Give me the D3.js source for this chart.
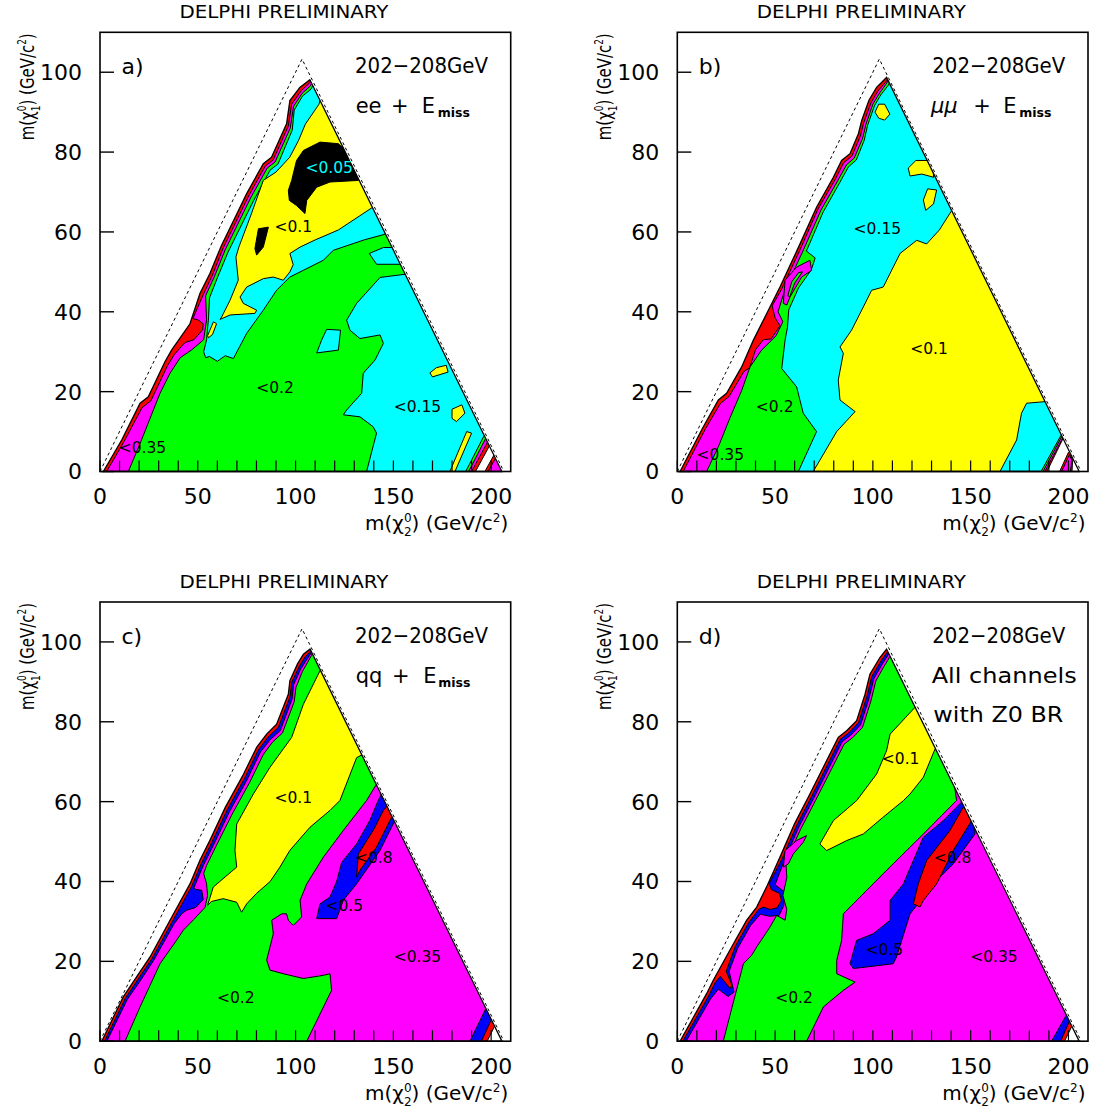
<!DOCTYPE html>
<html><head><meta charset="utf-8">
<script src="https://cdn.jsdelivr.net/npm/d3@7"></script>
<style>body{margin:0;background:#fff}</style></head>
<body>
<svg id="chart" width="1098" height="1111"></svg>
<script>
// ---------------- DATA (m(chi2), m(chi1)) in GeV ----------------
const xTickLabels = [0, 50, 100, 150, 200];
const xMinorTicks = [0,10,20,30,40,50,60,70,80,90,100,110,120,130,140,150,160,170,180,190,200];
const yTickLabels = [0, 20, 40, 60, 80, 100];
const kinematicLimit = [[0,0],[103.3,103.3],[206.5,0]];

// ---- panel a : ee + Emiss
const aEdge = [[1.7,0],[11.1,7.9],[20.5,17.1],[24.7,18.7],[33.2,27.5],[36.6,30.4],[46,37],[51.1,44.6],[56.2,49.6],[62,56.5],[75,69.6],[83.5,77.1],[87.7,78.7],[95.4,87.1],[97.1,92.9],[102.2,96.2],[107.3,98.1],[205.5,0]];
const aRed = [
 [[-10,-10],[192,-10],[192,0],[199.1,6.4],[240,40],[240,120],[-10,120]],
 [[196.8,-10],[196.8,0],[201.4,4.1],[215,10],[215,-10]]];
const aMagenta = [
 [[3.4,0],[12.3,7.5],[21.5,16],[26,17.7],[34.5,26.5],[38,29.3],[42,31.5],[43.5,32.3],[48,33],[52.5,35.5],[52.8,37],[50,38],[47.5,38.3],[52.5,44],[57.5,49.2],[63,56],[76,69],[84.5,76.5],[88.5,78],[96.3,86.5],[98,92],[102.8,95.3],[107.3,97.4],[125,115],[240,115],[240,40],[198.2,7.4],[190,0],[190,-10],[3.4,-10]],
 [[198.5,-10],[198.5,0],[202.3,3.4],[215,10],[215,-10]]];
const aGreen = [
 [[14.5,0],[20.5,7],[30.7,19.6],[35.8,24.6],[41,28.5],[47,30.5],[53,33],[54.5,38],[54,44],[58.5,48.8],[64,55.5],[77,68.5],[85.5,76],[89.5,77.5],[97.3,86],[99,91.5],[103.5,94.8],[107.5,96.5],[125,115],[240,115],[240,40],[197,8.1],[188.5,0],[188.5,-10],[14.5,-10]]];
const aCyan = [
 [[108,95.8],[103.5,94],[99.3,90.5],[98.3,85.5],[91,77],[87,75.5],[78.5,67.8],[65.5,55],[60,48.5],[56,43.5],[55.5,38.5],[54.5,33],[53,30],[54,28.5],[56,28.8],[60,27.6],[64,29],[68.2,28.3],[75,34.6],[83.5,40.4],[90.3,45.4],[97.1,48.7],[104,50.4],[114.2,52.9],[119.3,55.4],[135,58],[150,60],[240,60],[240,115],[125,115]],
 [[157.5,49.5],[143.2,48.6],[131.2,42.1],[126.1,37.9],[127.8,35.4],[132.9,33.3],[143.2,34.2],[144.9,32.1],[140.6,27.9],[134.6,24.6],[133.8,19.6],[126.1,15.4],[124.4,14.2],[132.9,13.7],[139.7,11.2],[141.4,9.6],[136.3,0],[136.3,-10],[187,-10],[187,0],[196.2,8.8],[240,40],[240,49.5]],
 [[137.7,54.6],[144.9,56.1],[160,56.1],[160,51.9],[141.4,51.9]],
 [[115.9,35.6],[123,35.4],[121.9,30.4],[110.8,29.7],[113.3,32.9]],
 [[118.5,85.5],[124,87],[124,84],[121,84.3]]];
const aYellow = [
 [[112,92],[105,87],[101.5,82.9],[97,78.7],[90,75],[83.5,72.9],[77,64],[71,56.2],[69.5,53.7],[70.7,47.9],[66.5,42.9],[62.2,38.7],[61.4,38.1],[66.5,39.2],[79.2,39.6],[80.1,40.4],[73.3,42.1],[71.6,43.7],[75,46.2],[83.5,48.3],[88.6,48.7],[93.7,47.9],[97.1,50],[98.8,51.8],[97.1,54.6],[102.3,56.2],[110,58],[121.9,60.5],[139.5,66.2],[160,70],[160,110],[120,110]],
 [[55,34],[58,37.5],[59.6,37],[57.5,34.3],[55.5,33.5]],
 [[168.7,24.7],[172,26],[177,26.6],[178,24.9],[170,23.7]],
 [[180,15.6],[185,16.7],[186.6,14.6],[182.3,12.5],[180,13.3]],
 [[178.9,0],[187.5,10],[190,9.6],[181.5,0]]];
const aBlack = [
 [[100.5,77.9],[104,80.4],[112.5,82.5],[121.9,82.1],[129.5,78.7],[132.1,72.9],[117.6,72.5],[110.8,71.2],[105.7,67.9],[104.8,64.6],[100.5,66.6],[96.8,67.9],[96.3,70.4],[98,72.9]],
 [[81,60.8],[86.1,61.2],[83.5,56.2],[80.1,54.2],[79.2,55.8]]];
const aLabels = [['<0.05',117.2,76.1,'#00ffff'],['<0.1',98.8,61.3,'#000'],['<0.2',89.5,21,'#000'],['<0.15',162.3,16.2,'#000'],['<0.35',21.7,6.1,'#000']];

// ---- panel b : mumu + Emiss
const bEdge = [[1.4,0],[13.3,11.2],[21,17.9],[25.2,19.6],[32.9,26.2],[38.9,32.9],[47.4,41.2],[52.5,46.2],[62,56.2],[71.2,66.2],[79.8,73.7],[84,77.9],[88.3,79.6],[92.6,84.6],[94.3,87.9],[98,93],[101.9,96.2],[107,98.7],[205.5,0]];
const bRed = [
 [[-10,-10],[189,-10],[189,0],[197.5,8.5],[240,40],[240,120],[-10,120]],
 [[195.5,0],[200,4.8],[202.2,3],[201.8,0]]];
const bMagenta = [
 [[3,0],[14.5,10.8],[22,17],[26.5,18.8],[34,25],[37,26],[40,30.5],[44,33],[48,33.2],[52.5,36.5],[50,38.5],[48.5,41.5],[53.5,45.8],[63,55.8],[72,65.8],[80.8,73.2],[85,77.3],[89.3,79],[93.6,84],[95.3,87.3],[99,92.3],[102.6,95.3],[107,97.8],[125,115],[240,115],[240,40],[197,8.3],[188,0],[188,-10],[3,-10]],
 [[196.5,0],[200.4,4.1],[201.8,2.8],[201,0]]];
const bGreen = [
 [[15,0],[21,6.2],[27,13.5],[33,20.4],[37.2,26.2],[43.1,30.4],[50.5,34],[54,37.5],[51.5,40],[55,45.5],[64.5,55.5],[73.5,65.5],[82,72.8],[86.5,76.8],[90.5,78.5],[94.8,83.5],[96.5,87],[100,92],[103.5,94.8],[107,97.2],[125,115],[240,115],[240,40],[196.5,8.7],[187,0],[187,-10],[15,-10]]];
const bCyan = [
 [[108,96.8],[104,94.3],[100.8,91.6],[97.3,86.7],[95.6,83],[91.5,78],[87.5,76.3],[83,72.3],[74.5,64.9],[66,55.2],[70.5,53.5],[68.5,50.5],[62,46],[57,40.5],[56.3,36],[55.1,32.9],[53.4,25.8],[61,21.2],[64.4,14.6],[71.2,10],[61.9,0],[61.9,-10],[186,-10],[186,0],[196,8.9],[240,40],[240,115],[125,115]]];
const bYellow = [
 [[140.5,65.5],[134,60.5],[127.5,57],[122.4,57.9],[113.9,54.6],[105.3,46.2],[99.4,45.4],[95.1,41.2],[89.1,35.4],[83.2,31.2],[84.9,29.6],[82.3,22.9],[83.2,17.9],[90.9,15],[81.5,10],[69.5,0],[69.5,-10],[165,-10],[165,0],[173.5,7.9],[176,14.6],[178.6,17.1],[188,17.5],[240,17.5],[240,70]],
 [[101.1,90],[103,92],[106,92],[108.7,89.5],[106,88],[103,88.5]],
 [[118.1,76],[122,77.9],[130.9,77.9],[131,73.7],[125,74.5],[119,74]],
 [[125.8,68],[128,70.8],[132.6,70.5],[131,67],[127,65.4]]];
const bMagentaFinger = [[[54.2,42.1],[55.1,47.9],[61,51.2],[67.8,52.9],[68.7,50.4],[63.6,48.7],[57.6,43.7],[56,41.7]]];
const bGreenFinger = [[[56.5,44],[58.5,47.5],[62,49.8],[64,50],[60,47.2],[57.5,43.8]]];
const bLabels = [['<0.15',102.3,60.8,'#000'],['<0.1',128.7,30.9,'#000'],['<0.2',49.8,16.2,'#000'],['<0.35',22,4.2,'#000']];

// ---- panel c : qq + Emiss
const cEdge = [[0.9,0],[11.9,11.1],[18.7,16.1],[25.6,21.1],[35.8,30.3],[46,39.4],[51.1,45.3],[56.2,50.3],[64,58.5],[73,66.5],[80.1,73.6],[85.2,76.9],[90.3,79.4],[96.3,86.9],[97.1,90.3],[101,94.5],[104,96.9],[107.4,98.2],[205.5,0]];
const cRed = [[[-10,-10],[198,-10],[198,0],[201.8,3.8],[240,40],[240,120],[-10,120]]];
const cBlue = [[[2.3,0],[13,10.8],[19.7,15.7],[26.6,20.7],[36.8,29.8],[47,38.9],[52,44.7],[57.2,49.8],[65,57.9],[74,65.9],[81,73],[86,76.2],[91.2,78.6],[97.2,86.3],[98,89.8],[101.8,93.8],[104.8,96.2],[107.4,97.5],[125,115],[240,115],[240,40],[200,5.3],[195,0],[195,-10],[2.3,-10]]];
const cMagenta = [[[3.5,0],[14,10.5],[20.7,15.2],[27.5,20.3],[38,29.5],[42,32],[44.3,32.8],[49,33.5],[52.8,35.5],[52,37.8],[49,38],[48,38.4],[53,44.2],[58.2,49.3],[66,57.3],[75,65.3],[82,72.4],[87,75.5],[92.2,77.8],[98.2,85.7],[99,89.3],[102.6,93.2],[105.6,95.5],[107.4,96.8],[125,115],[240,115],[240,40],[197.5,8.4],[189.2,0],[189.2,-10],[3.5,-10]]];
const cGreen = [[[12.8,0],[20.5,8.6],[30.7,19.4],[39.2,25.3],[42.6,27.8],[48,30.5],[53.7,33.5],[55,36.5],[54.5,39.4],[53,42],[54.5,44],[59.5,49],[67.5,56.8],[76.5,64.8],[83.5,71.8],[88.2,74.9],[93.3,77.2],[99.3,85],[100.2,88.6],[103.5,92.6],[106.3,95],[108,96.5],[125,115],[240,115],[240,63],[141.5,64.5],[136.3,60.3],[124.4,52.8],[114.2,46.1],[105.7,39.4],[102.3,35.3],[103.1,31.1],[98.8,29],[96.3,30.3],[95.4,31.9],[92.9,31.9],[87.8,30.3],[88.6,26.9],[85.2,20.3],[86.9,17.8],[93.7,16.9],[104,15.7],[114.2,16.5],[117.6,16.9],[118.4,12.75],[105.7,0],[105.7,-10],[12.8,-10]]];
const cYellow = [[[112.5,92.8],[104,84.4],[98,76.1],[86.9,68.6],[78.4,61.9],[69.9,54.4],[69,47.8],[69.9,43.6],[57.9,38.6],[55,34],[57,35],[63,35.7],[69.9,34.8],[72.4,32.3],[75,34.4],[80,37],[87,40],[92,43.6],[97.1,47.8],[107.4,53.6],[117.6,57.8],[122.7,60.3],[131.2,71],[134.6,71.9],[160,80],[130,110]]];
const cBlueRight = [[[110.8,30.7],[112.5,34.4],[117.6,36.1],[121,40],[123.6,44.8],[131.2,49.4],[138,55.3],[142,60],[144.5,62.5],[150,58],[150.8,55.3],[143.2,47.8],[131.2,39.4],[124.4,35.3],[121,30.7]]];
const cRedRight = [[[131.2,41.1],[132.1,46.9],[139.7,52.8],[144.9,57.8],[148.3,59.8],[150,57],[149.1,56.1],[141.4,48.6],[132.9,42.8]]];
const cLabels = [['<0.1',98.8,60.9,'#000'],['<0.8',140,45.9,'#000'],['<0.5',124.9,34,'#000'],['<0.35',162.3,21.1,'#000'],['<0.2',69.4,10.9,'#000']];

// ---- panel d : all channels
const dEdge = [[1.4,0],[15,11.9],[18.4,15.25],[28.7,24.4],[35.5,30.3],[40.6,33.6],[46,39],[52.5,46.1],[60,54.5],[67.8,61.9],[82.3,76.1],[86.6,77.75],[91.7,80.3],[96,86.9],[98.5,91.9],[103.6,96.1],[107,98.2],[205.5,0]];
const dRed = [[[-10,-10],[198,-10],[198,0],[201.8,3.8],[240,40],[240,120],[-10,120]]];
const dBlue = [[[2.8,0],[16,11.3],[19.4,14.7],[22,16.2],[24,15],[27,13.2],[28,14],[25,17.5],[29.7,23.8],[36.5,29.7],[41.6,33],[44,33.6],[47.5,33],[51,33.4],[53.2,35.2],[52.3,37],[48,38],[47,39.5],[53.5,45.6],[61,54],[68.8,61.4],[83.3,75.6],[87.6,77.2],[92.7,79.8],[97,86.4],[99.5,91.4],[104.4,95.4],[107.3,97.4],[125,115],[240,115],[240,40],[200.5,5],[196,0],[196,-10],[2.8,-10]]];
const dMagenta = [[[4.5,0],[17,10.6],[21,13],[26,11.2],[29,12.3],[26.5,17.5],[30.8,23.2],[37.5,29],[42.5,31.8],[47,31.3],[52,31.5],[54.5,34],[54.5,37.5],[50,39.2],[54.5,45],[62,53.5],[69.8,60.9],[84.3,75],[88.6,76.6],[93.7,79.2],[98,85.8],[100.5,90.8],[105,94.6],[107.5,96.5],[125,115],[240,115],[240,40],[198.5,6.2],[191.4,0],[191.4,-10],[4.5,-10]]];
const dGreen = [[[23.5,0],[28,8.5],[33.8,19.4],[38,21.5],[40.6,23.6],[47.4,28.6],[50.8,31.5],[55.1,30.3],[56,33],[54,36.5],[56,41],[55.5,45],[63,53],[70.8,60.4],[85.3,74.4],[89.6,76],[94.7,78.6],[99,85.2],[101.5,90.2],[105.6,93.8],[108,95.7],[125,115],[240,115],[240,66],[141.1,66.1],[142.8,60.3],[125.8,51.9],[107,42.8],[93.4,36.1],[84.9,31.9],[84,25.25],[81.5,20.25],[81.5,16.9],[90.9,14.8],[84.9,12.75],[74.7,8.6],[66.1,0],[66.1,-10],[23.5,-10]]];
const dMagentaFinger = [[[54.2,43.6],[55.1,47.75],[61,50.25],[66.1,51.5],[64.4,49.8],[59.3,46.9],[56.8,44.4]]];
const dYellow = [[[121.5,83.6],[108.8,76.9],[107,72.75],[101.9,66.9],[91.7,60.25],[79.8,55.25],[72.9,49.4],[76.4,47.75],[86.6,50.25],[95.1,51.9],[105,56],[115.6,60.25],[119,61.9],[125.8,66.1],[131.8,73.2],[150,75],[150,90]]];
const dBlueRight = [[[88.3,19.4],[91.7,25.25],[100.2,26.9],[108.8,30.3],[108.8,35.25],[115.6,39.4],[120.7,45.25],[125.8,51.1],[136,55.25],[146.2,60.3],[146.5,63],[152,56],[152.2,51.9],[141.1,44.4],[132.6,40.25],[119,31.9],[112.1,21.1],[110.4,19.4],[90,18.2]]];
const dRedRight = [[[120.7,34.4],[123.2,39.4],[127.5,45.25],[139.4,52.75],[146.2,58.6],[150,57],[150.5,55.25],[141.1,47.75],[132.6,39.4],[125.8,35.25],[124.1,33.6]]];
const dLabels = [['<0.1',114.2,70.9,'#000'],['<0.8',140.8,45.9,'#000'],['<0.5',105.9,23,'#000'],['<0.35',161.9,21.1,'#000'],['<0.2',59.7,10.9,'#000']];

// ---------------- LAYOUT ----------------
const RED='#ff0000', MAG='#ff00ff', GRN='#00ff00', CYN='#00ffff', YEL='#ffff00', BLU='#0000ff', BLK='#000000';
const W = 410.7, H = 439.2;
const FONT = 'DejaVu Sans';
const panels = [
 {key:'a', left:100, top:32.3, letter:'a)', edge:aEdge, labels:aLabels, chan:'ee',
  layers:[[RED,aRed],[MAG,aMagenta],[GRN,aGreen],[CYN,aCyan],[YEL,aYellow],[BLK,aBlack]]},
 {key:'b', left:677.3, top:32.3, letter:'b)', edge:bEdge, labels:bLabels, chan:'mm',
  layers:[[RED,bRed],[MAG,bMagenta],[GRN,bGreen],[CYN,bCyan],[YEL,bYellow],[MAG,bMagentaFinger],[GRN,bGreenFinger]]},
 {key:'c', left:100, top:602, letter:'c)', edge:cEdge, labels:cLabels, chan:'qq',
  layers:[[RED,cRed],[BLU,cBlue],[MAG,cMagenta],[GRN,cGreen],[YEL,cYellow],[BLU,cBlueRight],[RED,cRedRight]]},
 {key:'d', left:677.3, top:602, letter:'d)', edge:dEdge, labels:dLabels, chan:'all',
  layers:[[RED,dRed],[BLU,dBlue],[MAG,dMagenta],[GRN,dGreen],[MAG,dMagentaFinger],[YEL,dYellow],[BLU,dBlueRight],[RED,dRedRight]]}
];

const svg = d3.select('#chart');
const x = d3.scaleLinear().domain([0,210]).range([0,W]);
const y = d3.scaleLinear().domain([0,110]).range([H,0]);
const line = d3.line().x(d=>x(d[0])).y(d=>y(d[1]));
const closed = p => line(p) + 'Z';

panels.forEach(P => {
  const g = svg.append('g').attr('transform', `translate(${P.left},${P.top})`);
  svg.append('defs').append('clipPath').attr('id','clip-'+P.key)
     .append('path').attr('d', closed(P.edge));
  g.append('path').attr('d', closed(P.edge)).attr('fill','#fff');
  const cg = g.append('g').attr('clip-path', `url(#clip-${P.key})`);
  P.layers.forEach(([col, polys]) => {
    cg.selectAll(null).data(polys).enter().append('path')
      .attr('d', closed).attr('fill', col)
      .attr('stroke','#000').attr('stroke-width',1).attr('stroke-linejoin','round');
  });
  g.append('path').attr('d', closed(P.edge)).attr('fill','none')
    .attr('stroke','#000').attr('stroke-width',1.3);
  g.append('path').attr('d', line(kinematicLimit)).attr('fill','none')
    .attr('stroke','#000').attr('stroke-width',1).attr('stroke-dasharray','3,3');
  g.selectAll(null).data(P.labels).enter().append('text')
    .attr('x', d=>x(d[1])).attr('y', d=>y(d[2])).attr('dy','0.35em')
    .attr('text-anchor','middle').attr('font-family',FONT).attr('font-size',15.5)
    .attr('fill', d=>d[3]).text(d=>d[0]);
  g.append('rect').attr('width',W).attr('height',H).attr('fill','none')
    .attr('stroke','#000').attr('stroke-width',1.6);
  g.selectAll(null).data(xMinorTicks).enter().append('line')
    .attr('x1',d=>x(d)).attr('x2',d=>x(d)).attr('y1',H).attr('y2',H-11)
    .attr('stroke','#000').attr('stroke-width',1.2);
  g.selectAll(null).data(yTickLabels).enter().append('line')
    .attr('x1',0).attr('x2',14).attr('y1',d=>y(d)).attr('y2',d=>y(d))
    .attr('stroke','#000').attr('stroke-width',1.4);
  g.selectAll(null).data(xTickLabels).enter().append('text')
    .attr('x',d=>x(d)).attr('y',H+33).attr('text-anchor','middle')
    .attr('font-family',FONT).attr('font-size',22).text(d=>d);
  g.selectAll(null).data(yTickLabels).enter().append('text')
    .attr('x',-18).attr('y',d=>y(d)).attr('dy','0.36em').attr('text-anchor','end')
    .attr('font-family',FONT).attr('font-size',22).text(d=>d);
  g.append('text').attr('x',184).attr('y',-14.3).attr('text-anchor','middle')
    .attr('font-family',FONT).attr('font-size',18)
    .attr('textLength',209).attr('lengthAdjust','spacingAndGlyphs').text('DELPHI PRELIMINARY');
  g.append('text').attr('x',21.5).attr('y',42).attr('font-family',FONT).attr('font-size',22).text(P.letter);
  g.append('text').attr('x',255).attr('y',41).attr('font-family',FONT).attr('font-size',21)
    .attr('textLength',133).attr('lengthAdjust','spacingAndGlyphs').text('202\u2212208GeV');
  if (P.chan === 'all') {
    g.append('text').attr('x',254.4).attr('y',80.7).attr('font-family',FONT).attr('font-size',21)
      .attr('textLength',145).attr('lengthAdjust','spacingAndGlyphs').text('All channels');
    g.append('text').attr('x',256).attr('y',119.7).attr('font-family',FONT).attr('font-size',21)
      .attr('textLength',130).attr('lengthAdjust','spacingAndGlyphs').text('with Z0 BR');
  } else {
    const pos = {ee:[255.7,291,321.7,337.7,'ee'], mm:[253.7,296,326,342,'\u03bc\u03bc'], qq:[255.7,292,323.3,338.3,'qq']}[P.chan];
    const t = g.append('text').attr('y',81).attr('font-family',FONT).attr('font-size',21);
    t.append('tspan').attr('x',pos[0]).attr('font-style', P.chan==='mm'?'italic':'normal').text(pos[4]);
    t.append('tspan').attr('x',pos[1]).text('+');
    t.append('tspan').attr('x',pos[2]).text('E');
    t.append('tspan').attr('x',pos[3]).attr('dy',4).attr('font-size',12.5).attr('font-weight','bold').text('miss');
  }
  const xt = g.append('text').attr('x',W-2.5).attr('y',H+59).attr('text-anchor','end')
    .attr('font-family',FONT).attr('font-size',20);
  xt.append('tspan').text('m(\u03c7');
  xt.append('tspan').attr('font-size',12).attr('dy',-8).text('0');
  xt.append('tspan').attr('font-size',12).attr('dx',-7.6).attr('dy',14).text('2');
  xt.append('tspan').attr('dy',-6).text(') (GeV/c');
  xt.append('tspan').attr('font-size',12).attr('dy',-8).text('2');
  xt.append('tspan').attr('dy',8).text(')');
  const yt = g.append('text').attr('transform',`translate(-66,1) rotate(-90)`).attr('text-anchor','end')
    .attr('font-family',FONT).attr('font-size',20)
    .attr('textLength',107).attr('lengthAdjust','spacingAndGlyphs');
  yt.append('tspan').text('m(\u03c7');
  yt.append('tspan').attr('font-size',12).attr('dy',-8).text('0');
  yt.append('tspan').attr('font-size',12).attr('dx',-7.6).attr('dy',14).text('1');
  yt.append('tspan').attr('dy',-6).text(') (GeV/c');
  yt.append('tspan').attr('font-size',12).attr('dy',-8).text('2');
  yt.append('tspan').attr('dy',8).text(')');
});
</script>
</body></html>
